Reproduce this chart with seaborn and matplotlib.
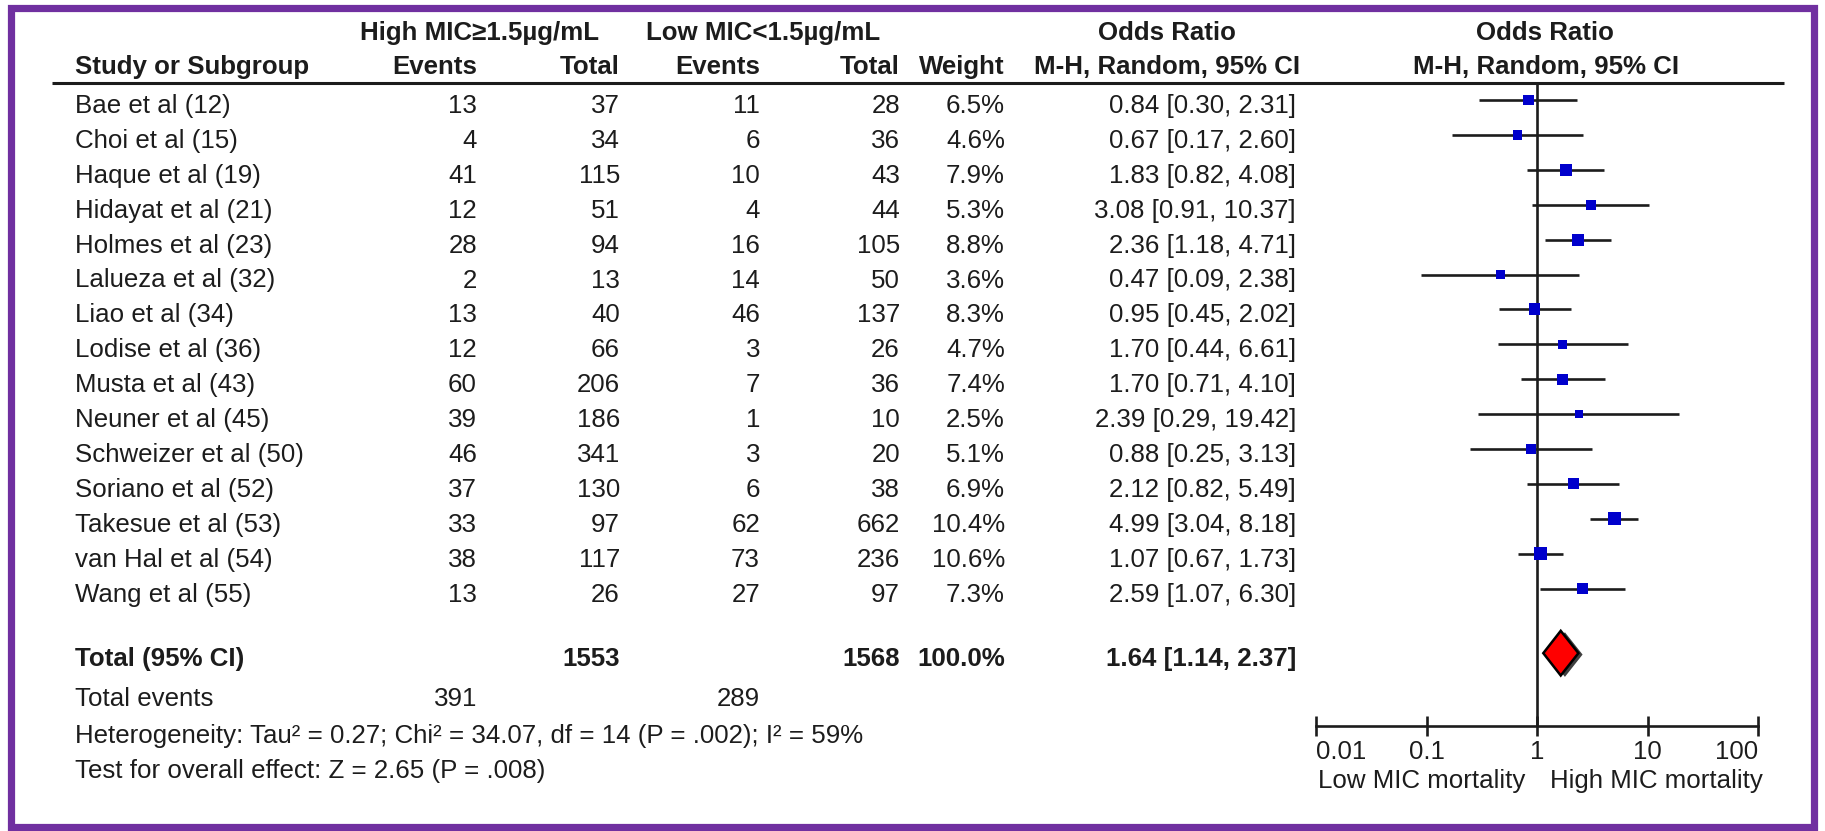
import matplotlib
matplotlib.use("Agg")
import matplotlib.pyplot as plt
import matplotlib.patheffects as pe
from matplotlib.patches import Polygon, Rectangle
from matplotlib.ticker import NullLocator
import numpy as np
import pandas as pd
import seaborn as sns

# ---- study data -------------------------------------------------------
studies = ["Bae et al (12)", "Choi et al (15)", "Haque et al (19)", "Hidayat et al (21)",
           "Holmes et al (23)", "Lalueza et al (32)", "Liao et al (34)", "Lodise et al (36)",
           "Musta et al (43)", "Neuner et al (45)", "Schweizer et al (50)", "Soriano et al (52)",
           "Takesue et al (53)", "van Hal et al (54)", "Wang et al (55)"]
high_events = [13, 4, 41, 12, 28, 2, 13, 12, 60, 39, 46, 37, 33, 38, 13]
high_total = [37, 34, 115, 51, 94, 13, 40, 66, 206, 186, 341, 130, 97, 117, 26]
low_events = [11, 6, 10, 4, 16, 14, 46, 3, 7, 1, 3, 6, 62, 73, 27]
low_total = [28, 36, 43, 44, 105, 50, 137, 26, 36, 10, 20, 38, 662, 236, 97]
weights = [6.5, 4.6, 7.9, 5.3, 8.8, 3.6, 8.3, 4.7, 7.4, 2.5, 5.1, 6.9, 10.4, 10.6, 7.3]
odds = [0.84, 0.67, 1.83, 3.08, 2.36, 0.47, 0.95, 1.70, 1.70, 2.39, 0.88, 2.12, 4.99, 1.07, 2.59]
ci_low = [0.30, 0.17, 0.82, 0.91, 1.18, 0.09, 0.45, 0.44, 0.71, 0.29, 0.25, 0.82, 3.04, 0.67, 1.07]
ci_high = [2.31, 2.60, 4.08, 10.37, 4.71, 2.38, 2.02, 6.61, 4.10, 19.42, 3.13, 5.49, 8.18, 1.73, 6.30]

# pooled estimate and summary rows
pooled_or = 1.64
pooled_lo = 1.14
pooled_hi = 2.37
sum_high_total = 1553
sum_low_total = 1568
sum_weight = 100.0
sum_high_events = 391
sum_low_events = 289
heterogeneity = "Heterogeneity: Tau² = 0.27; Chi² = 34.07, df = 14 (P = .002); I² = 59%"
overall_effect = "Test for overall effect: Z = 2.65 (P = .008)"

axis_ticks = [0.01, 0.1, 1, 10, 100]
axis_tick_labels = ["0.01", "0.1", "1", "10", "100"]
favours_left = "Low MIC mortality"
favours_right = "High MIC mortality"
group_high = "High MIC≥1.5µg/mL"
group_low = "Low MIC<1.5µg/mL"

# ---- layout (figure pixels) ------------------------------------------
W, H = 1825, 831
ROW0, STEP, TXT_DY = 100, 34.9, 6
TOP_RULE, AXIS_Y = 83, 726
PLOT_L, PLOT_R = 1316, 1758
TOTAL_ROW = 15.85
FS = 18.6
INK = "#1c1c1c"

sns.set_theme(style="white")
plt.rcParams["font.family"] = ["Liberation Sans", "DejaVu Sans"]

fig = plt.figure(figsize=(W / 100, H / 100), dpi=100)
fig.patch.set_facecolor("white")

# full-figure axes in pixel coordinates for the table text
tab = fig.add_axes([0, 0, 1, 1], zorder=0)
tab.set_xlim(0, W)
tab.set_ylim(H, 0)
tab.axis("off")

# frame
tab.add_patch(Rectangle((11, 8), W - 22, H - 12, fill=False, edgecolor="#7030A0",
                        linewidth=5.2, zorder=5))

# header
col_he, col_ht, col_le, col_lt, col_w, col_or = 477, 620, 760, 900, 1005, 1296
hdr1, hdr2 = 33, 67
bold = dict(fontsize=FS, fontweight="bold", color=INK, va="center")
tab.text(480, hdr1, group_high, ha="center", **bold)
tab.text(763, hdr1, group_low, ha="center", **bold)
tab.text(1167, hdr1, "Odds Ratio", ha="center", **bold)
tab.text(1545, hdr1, "Odds Ratio", ha="center", **bold)
tab.text(75, hdr2, "Study or Subgroup", ha="left", **bold)
for x, s in [(col_he, "Events"), (col_ht, "Total"), (col_le, "Events"),
             (col_lt, "Total"), (col_w, "Weight")]:
    tab.text(x, hdr2, s, ha="right", **bold)
tab.text(1167, hdr2, "M-H, Random, 95% CI", ha="center", **bold)
tab.text(1546, hdr2, "M-H, Random, 95% CI", ha="center", **bold)
tab.plot([52, 1784], [TOP_RULE, TOP_RULE], color=INK, linewidth=2.2, solid_capstyle="butt")

# study rows
reg = dict(fontsize=FS, color=INK, va="center")
for i, name in enumerate(studies):
    y = ROW0 + STEP * i + TXT_DY
    tab.text(75, y, name, ha="left", **reg)
    tab.text(col_he, y, f"{high_events[i]}", ha="right", **reg)
    tab.text(col_ht, y, f"{high_total[i]}", ha="right", **reg)
    tab.text(col_le, y, f"{low_events[i]}", ha="right", **reg)
    tab.text(col_lt, y, f"{low_total[i]}", ha="right", **reg)
    tab.text(col_w, y, f"{weights[i]:.1f}%", ha="right", **reg)
    tab.text(col_or, y, f"{odds[i]:.2f} [{ci_low[i]:.2f}, {ci_high[i]:.2f}]", ha="right", **reg)

# summary rows
yt = ROW0 + STEP * TOTAL_ROW + TXT_DY
tab.text(75, yt, "Total (95% CI)", ha="left", **bold)
tab.text(col_ht, yt, f"{sum_high_total}", ha="right", **bold)
tab.text(col_lt, yt, f"{sum_low_total}", ha="right", **bold)
tab.text(col_w, yt, f"{sum_weight:.1f}%", ha="right", **bold)
tab.text(col_or, yt, f"{pooled_or:.2f} [{pooled_lo:.2f}, {pooled_hi:.2f}]", ha="right", **bold)
tab.text(75, yt + 40, "Total events", ha="left", **reg)
tab.text(col_he, yt + 40, f"{sum_high_events}", ha="right", **reg)
tab.text(col_le, yt + 40, f"{sum_low_events}", ha="right", **reg)
tab.text(75, yt + 77, heterogeneity, ha="left", **reg)
tab.text(75, yt + 112, overall_effect, ha="left", **reg)

# ---- forest panel ------------------------------------------------------
ax = fig.add_axes([PLOT_L / W, (H - AXIS_Y) / H, (PLOT_R - PLOT_L) / W,
                   (AXIS_Y - TOP_RULE) / H], zorder=2)
ax.patch.set_alpha(0)
ax.set_xscale("log")

rows = np.arange(len(studies))
ax.hlines(rows, ci_low, ci_high, color=INK, linewidth=1.9, zorder=2)

df = pd.DataFrame({"odds": odds, "row": rows, "weight": weights})
sns.scatterplot(data=df, x="odds", y="row", size="weight", sizes=(30, 90), marker="s",
                color="#0000CC", edgecolor="none", linewidth=0, legend=False, ax=ax, zorder=3)

ax.axvline(1, color=INK, linewidth=1.9, zorder=1)

h = 0.64
diamond = Polygon([(pooled_lo, TOTAL_ROW), (pooled_or, TOTAL_ROW - h),
                   (pooled_hi, TOTAL_ROW), (pooled_or, TOTAL_ROW + h)],
                  closed=True, facecolor="#FF0000", edgecolor="black", linewidth=1.8,
                  zorder=4)
diamond.set_path_effects([pe.SimplePatchShadow(offset=(3, -1), shadow_rgbFace="black",
                                               alpha=0.75), pe.Normal()])
ax.add_patch(diamond)

ax.set_xlim(axis_ticks[0], axis_ticks[-1])
ax.set_ylim((AXIS_Y - ROW0) / STEP, (TOP_RULE - ROW0) / STEP)
ax.set_xlabel("")
ax.set_ylabel("")
ax.set_yticks([])
ax.set_xticks(axis_ticks)
ax.set_xticklabels(axis_tick_labels)
ax.xaxis.set_minor_locator(NullLocator())
ax.tick_params(axis="x", bottom=True, direction="inout", length=14.5, width=1.9,
               color=INK, pad=3, labelsize=FS, labelcolor=INK)
labels = ax.get_xticklabels()
labels[0].set_horizontalalignment("left")
labels[-1].set_horizontalalignment("right")
for side in ["top", "right", "left"]:
    ax.spines[side].set_visible(False)
ax.spines["bottom"].set_color(INK)
ax.spines["bottom"].set_linewidth(1.9)

ax.annotate(favours_left, xy=(1, 0), xycoords=("data", "axes fraction"),
            xytext=(-12, -55), textcoords="offset pixels", ha="right", va="center",
            fontsize=FS, color=INK)
ax.annotate(favours_right, xy=(1, 0), xycoords=("data", "axes fraction"),
            xytext=(13, -55), textcoords="offset pixels", ha="left", va="center",
            fontsize=FS, color=INK)

fig.savefig("out.png", dpi=100, facecolor="white")
